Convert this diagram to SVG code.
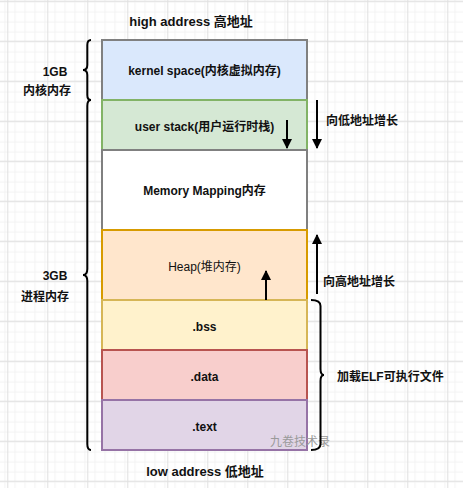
<svg xmlns="http://www.w3.org/2000/svg" width="463" height="488" viewBox="0 0 463 488">
  <defs>
    <pattern id="minor" patternUnits="userSpaceOnUse" x="7.3" y="0.7" width="10" height="10">
      <path d="M0 0.5 H10 M0.5 0 V10" fill="none" stroke="#f2f2f2" stroke-width="1"/>
    </pattern>
    <pattern id="major" patternUnits="userSpaceOnUse" x="7.3" y="0.7" width="40" height="40">
      <rect width="40" height="40" fill="url(#minor)"/>
      <path d="M0 0.5 H40 M0.5 0 V40" fill="none" stroke="#e0e0e0" stroke-width="1"/>
    </pattern>
    <marker id="ah" viewBox="0 0 10 10" refX="9" refY="5" markerWidth="5" markerHeight="5" orient="auto" markerUnits="strokeWidth">
      <path d="M0 0 L10 5 L0 10 Z" fill="#000"/>
    </marker>
    <style>
      text { font-family: "Liberation Sans", "Noto Sans CJK SC", sans-serif; font-size: 12px; fill: #111; }
      .b { font-weight: bold; }
      .c { text-anchor: middle; }
      .box { stroke-width: 2; }
      .brace { fill: none; stroke: #000; stroke-width: 2; }
      .arr { fill: none; stroke: #000; stroke-width: 2; marker-end: url(#ah); }
    </style>
  </defs>
  <rect width="463" height="488" fill="#fff"/>
  <rect width="463" height="488" fill="url(#major)"/>

  <text class="b c" x="191" y="25.5" style="font-size:13px">high address 高地址</text>
  <text class="b c" x="205" y="475.5" style="font-size:13px">low address 低地址</text>

  <g id="kernel"><rect class="box" x="102" y="40" width="205" height="60" fill="#dae8fc" stroke="#808080"/><text class="b c" x="204.5" y="75">kernel space(内核虚拟内存)</text></g>
  <g id="stack"><rect class="box" x="102" y="100" width="205" height="50" fill="#d5e8d4" stroke="#82b366"/><text class="b c" x="204.5" y="130.5">user stack(用户运行时栈)</text></g>
  <g id="mmap"><rect class="box" x="102" y="150" width="205" height="80" fill="#ffffff" stroke="#808080"/><text class="b c" x="204.5" y="195">Memory Mapping内存</text></g>
  <g id="heap"><rect class="box" x="102" y="230" width="205" height="70" fill="#ffe6cc" stroke="#d79b00"/><text class="c" x="204.5" y="270.5">Heap(堆内存)</text></g>
  <g id="bss"><rect class="box" x="102" y="300" width="205" height="50" fill="#fff2cc" stroke="#d6b656"/><text class="b c" x="204.5" y="330.5">.bss</text></g>
  <g id="data"><rect class="box" x="102" y="350" width="205" height="50" fill="#f8cecc" stroke="#b85450"/><text class="b c" x="204.5" y="380.5">.data</text></g>
  <g id="textseg"><rect class="box" x="102" y="400" width="205" height="50" fill="#e1d5e7" stroke="#9673a6"/><text class="b c" x="204.5" y="430.5">.text</text></g>

  <g id="labels">
    <text class="b c" x="55" y="75.5">1GB</text>
    <text class="b c" x="47" y="94.5">内核内存</text>
    <text class="b c" x="55" y="279.5">3GB</text>
    <text class="b c" x="45" y="300.5">进程内存</text>
    <text class="b" x="326" y="124.5">向低地址增长</text>
    <text class="b" x="323" y="285.5">向高地址增长</text>
    <text class="b" x="337" y="380.5">加载ELF可执行文件</text>
    <text x="270" y="445.5" style="fill:#9a9a9a">九卷技术录</text>
  </g>

  <g id="connectors">
    <path class="brace" d="M91 40 Q87.3 40 87.3 45 L87.3 65 Q87.3 70 83 70 Q87.3 70 87.3 75 L87.3 95 Q87.3 100 91 100"/>
    <path class="brace" d="M91 100 Q87.3 100 87.3 106 L87.3 269 Q87.3 275 83 275 Q87.3 275 87.3 281 L87.3 444 Q87.3 450 91 450"/>
    <path class="brace" d="M311 300 Q320.5 300 320.5 306 L320.5 369 Q320.5 375 324 375 Q320.5 375 320.5 381 L320.5 444 Q320.5 450 311 450"/>
    <path class="arr" d="M287 120 V148"/>
    <path class="arr" d="M317 100 V148"/>
    <path class="arr" d="M266 300 V271"/>
    <path class="arr" d="M317 294 V235"/>
  </g>
</svg>
